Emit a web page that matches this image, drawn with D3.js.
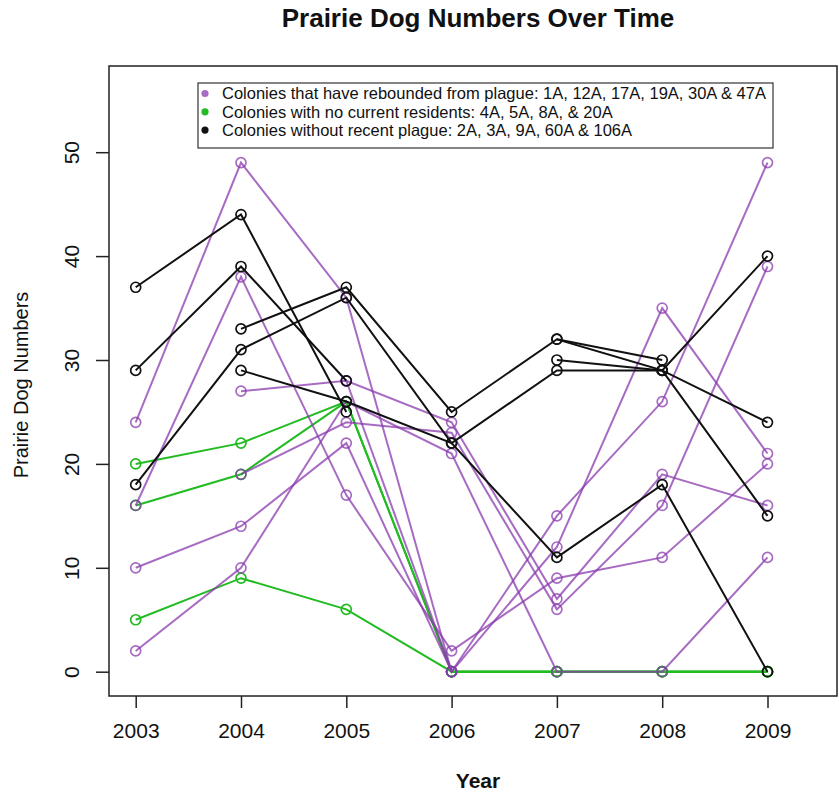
<!DOCTYPE html>
<html>
<head>
<meta charset="utf-8">
<script src="https://cdn.jsdelivr.net/npm/d3@7"></script>
<style>
  body { margin: 0; background: #fff; }
  text { font-family: Arial, "Liberation Sans", sans-serif; fill: #111; }
</style>
</head>
<body>
<svg id="chart" width="839" height="795"></svg>
<script>
// years on the x axis
const years = [2003, 2004, 2005, 2006, 2007, 2008, 2009];
const yTicks = [0, 10, 20, 30, 40, 50];

// colonies that rebounded from plague (purple), null = no count
const rebounded = [
  [24, 49, 36, 0, 15, 26, 49],
  [16, 38, 17, 2, 9, 11, 20],
  [null, 27, 28, 24, 7, 19, 16],
  [null, 19, 24, 23, 6, 16, 39],
  [10, 14, 22, 0, 12, 35, 21],
  [2, 10, 26, 21, 0, 0, 11],
  [null, null, 28, 0, null, null, null]
];

// colonies with no current residents (green)
const noResidents = [
  [20, 22, 26, 0, 0, 0, 0],
  [16, 19, 26, 0, 0, 0, 0],
  [5, 9, 6, 0, 0, 0, 0],
  [null, null, null, 0, 0, 0, 0]
];

// colonies without recent plague (black)
const noPlague = [
  [37, 44, 25, null, 32, 30, null],
  [29, 39, 28, null, 30, 29, 24],
  [18, 31, 36, 22, 29, 29, 40],
  [null, 33, 37, 25, 32, 29, 15],
  [null, 29, 26, 22, 11, 18, 0]
];

const legendLabels = [
  "Colonies that have rebounded from plague: 1A, 12A, 17A, 19A, 30A & 47A",
  "Colonies with no current residents: 4A, 5A, 8A, & 20A",
  "Colonies without recent plague: 2A, 3A, 9A, 60A & 106A"
];

const purple = "#8a3aae", green = "#22bb22", black = "#111";

const svg = d3.select("#chart");

// plot box (R style frame)
const box = { left: 109, top: 66, right: 837, bottom: 696 };

const x = d3.scaleLinear().domain([2003, 2009]).range([135.7, 767.5]);
const y = d3.scaleLinear().domain([0, 50]).range([671.7, 152.2]);

svg.append("rect")
  .attr("x", box.left).attr("y", box.top)
  .attr("width", box.right - box.left).attr("height", box.bottom - box.top)
  .attr("fill", "none").attr("stroke", "#222").attr("stroke-width", 1.5);

// x axis
const xAxis = svg.append("g")
  .attr("transform", `translate(0,${box.bottom})`)
  .call(d3.axisBottom(x).tickValues(years).tickFormat(d3.format("d")).tickSize(12).tickPadding(15));
xAxis.select(".domain").remove();
xAxis.selectAll("line").attr("stroke", "#222").attr("stroke-width", 1.5);
xAxis.selectAll("text").attr("font-size", 21).attr("fill", "#111")
  .style("font-family", "Arial, 'Liberation Sans', sans-serif");

// y axis, labels turned like R does
const yAxis = svg.append("g")
  .attr("transform", `translate(${box.left},0)`)
  .call(d3.axisLeft(y).tickValues(yTicks).tickSize(13));
yAxis.select(".domain").remove();
yAxis.selectAll("line").attr("stroke", "#222").attr("stroke-width", 1.5);
yAxis.selectAll("text")
  .attr("transform", "rotate(-90)")
  .attr("x", 0).attr("y", -30.5).attr("dy", null)
  .attr("text-anchor", "middle")
  .attr("font-size", 21).attr("fill", "#111")
  .style("font-family", "Arial, 'Liberation Sans', sans-serif");

const line = d3.line()
  .defined(d => d != null)
  .x((d, i) => x(years[i]))
  .y(d => y(d));

function drawGroup(data, color, opacity) {
  const g = svg.append("g");
  data.forEach(series => {
    g.append("path")
      .attr("d", line(series))
      .attr("fill", "none")
      .attr("stroke", color)
      .attr("stroke-opacity", opacity)
      .attr("stroke-width", 2);
    g.selectAll(null)
      .data(series.map((v, i) => ({ v, yr: years[i] })).filter(d => d.v != null))
      .enter()
      .append("circle")
      .attr("cx", d => x(d.yr))
      .attr("cy", d => y(d.v))
      .attr("r", 5)
      .attr("fill", "none")
      .attr("stroke", color)
      .attr("stroke-opacity", opacity)
      .attr("stroke-width", 1.7);
  });
}

drawGroup(noResidents, green, 1);
drawGroup(rebounded, purple, 0.75);
drawGroup(noPlague, black, 1);

// legend
const legend = svg.append("g");
legend.append("rect")
  .attr("x", 198).attr("y", 83).attr("width", 575).attr("height", 65)
  .attr("fill", "#fff").attr("stroke", "#333").attr("stroke-width", 1.2);
const legendColors = [purple, green, black];
legendLabels.forEach((label, i) => {
  const cy = 93.5 + i * 18.3;
  legend.append("circle")
    .attr("cx", 205).attr("cy", cy).attr("r", 3.6)
    .attr("fill", legendColors[i]).attr("fill-opacity", i === 0 ? 0.75 : 1);
  legend.append("text")
    .attr("x", 222).attr("y", cy + 5.7)
    .attr("font-size", 16.5)
    .text(label);
});

// titles
svg.append("text")
  .attr("x", 478).attr("y", 27)
  .attr("text-anchor", "middle")
  .attr("font-size", 26).attr("font-weight", "bold")
  .text("Prairie Dog Numbers Over Time");

svg.append("text")
  .attr("x", 478).attr("y", 788)
  .attr("text-anchor", "middle")
  .attr("font-size", 21).attr("font-weight", "bold")
  .text("Year");

svg.append("text")
  .attr("transform", "translate(28,385) rotate(-90)")
  .attr("text-anchor", "middle")
  .attr("font-size", 20)
  .text("Prairie Dog Numbers");
</script>
</body>
</html>
